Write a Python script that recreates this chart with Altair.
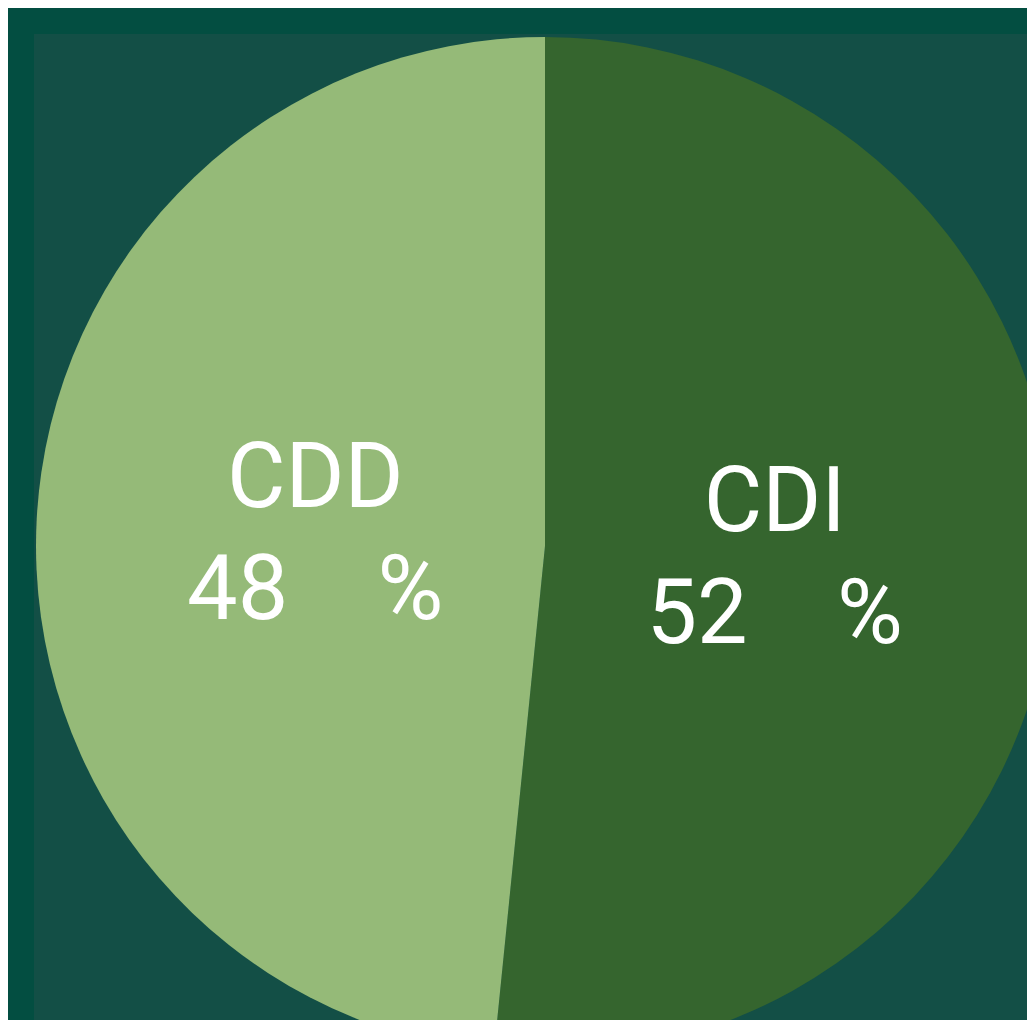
import altair as alt
import pandas as pd

categories = ["CDI", "CDD"]
values = [51.6, 48.4]
pct_labels = ["52", "48"]
colors = ["#35652e", "#95ba78"]

NB = "\u00a0"
df = pd.DataFrame({
    "cat": categories,
    "value": values,
    "idx": list(range(len(categories))),
    "label": [f"{c}\n{p}{NB*4}%" for c, p in zip(categories, pct_labels)],
})

cx, cy = 511, 512
base = alt.Chart(df).encode(
    theta=alt.Theta("value:Q", stack=True),
    order=alt.Order("idx:Q"),
    x=alt.value(cx),
    y=alt.value(cy),
)

pie = base.mark_arc(radius=509, clip=True, stroke=None).encode(
    color=alt.Color("cat:N", scale=alt.Scale(domain=categories, range=colors), legend=None)
)

text = base.mark_text(
    radius=230, fontSize=90, font="Roboto", color="white",
    lineBreak="\n", lineHeight=112, align="center", baseline="middle", dy=-54, clip=True
).encode(text="label:N")

chart = (pie + text).properties(
    width=993, height=986,
    background="#034e41",
    padding={"left": 26, "top": 26, "right": 0, "bottom": 0},
).configure_view(fill="#134f46", stroke=None)

chart.save("out.html", embed_options={"renderer": "svg", "actions": False})
